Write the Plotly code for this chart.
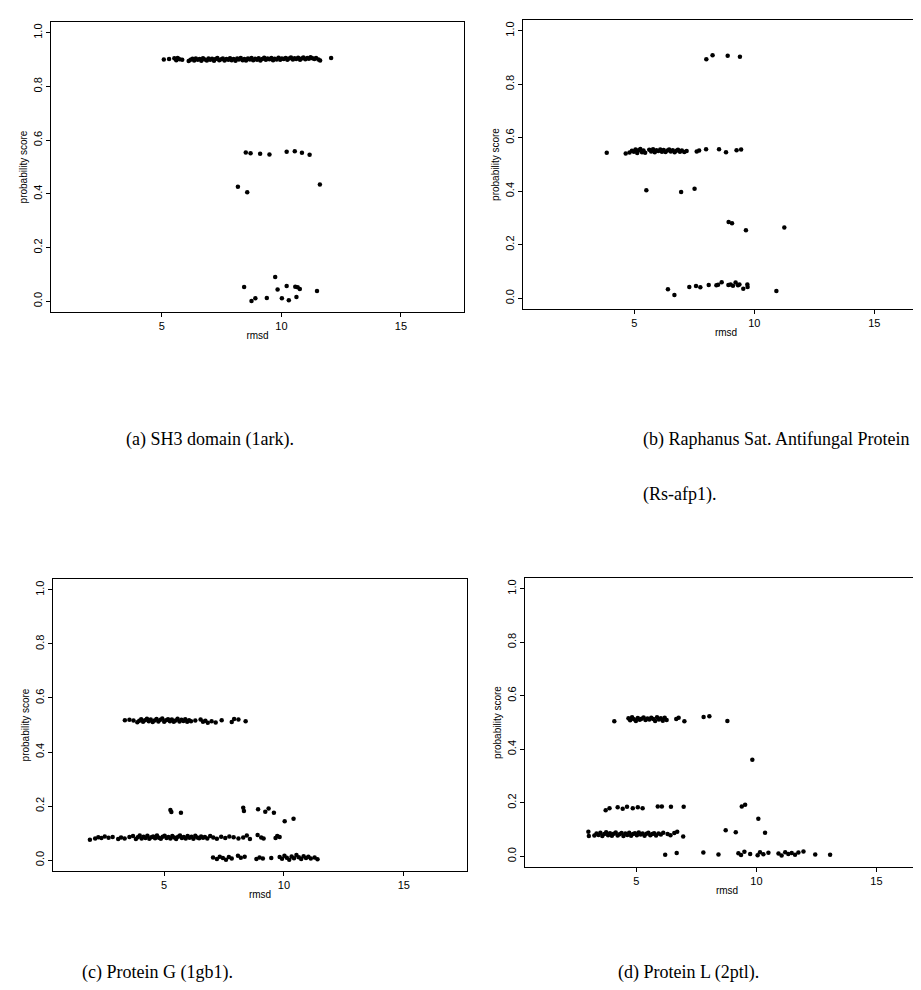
import plotly.graph_objects as go

# ---------------- data ----------------
# Panel (a) SH3 domain (1ark)
A_band_x = [5.08, 5.30, 5.52, 5.60, 5.66, 5.74, 5.85, 6.12, 6.20, 6.28,
            6.35, 6.42, 6.50, 6.58, 6.65, 6.72, 6.80, 6.88, 6.95, 7.02,
            7.10, 7.18, 7.25, 7.32, 7.40, 7.48, 7.55, 7.62, 7.70, 7.78,
            7.85, 7.92, 8.00, 8.08, 8.15, 8.22, 8.30, 8.38, 8.45, 8.52,
            8.60, 8.68, 8.75, 8.82, 8.90, 8.98, 9.05, 9.12, 9.20, 9.28,
            9.35, 9.42, 9.50, 9.58, 9.65, 9.72, 9.80, 9.88, 9.95, 10.02,
            10.10, 10.18, 10.25, 10.32, 10.40, 10.48, 10.55, 10.62, 10.70, 10.78,
            10.85, 10.92, 11.00, 11.08, 11.15, 11.22, 11.30, 11.38, 11.45, 11.55,
            11.62, 12.08]
A_band_y = [0.900, 0.902, 0.905, 0.898, 0.906, 0.901, 0.899, 0.895, 0.899, 0.903,
            0.897, 0.904, 0.899, 0.902, 0.896, 0.905, 0.900, 0.897, 0.904, 0.899,
            0.903, 0.896, 0.902, 0.906, 0.898, 0.901, 0.904, 0.897, 0.902, 0.899,
            0.905, 0.898, 0.902, 0.896, 0.904, 0.900, 0.906, 0.898, 0.902, 0.897,
            0.904, 0.900, 0.906, 0.898, 0.903, 0.899, 0.905, 0.897, 0.902, 0.907,
            0.899, 0.904, 0.901, 0.906, 0.898, 0.903, 0.900, 0.907, 0.899, 0.904,
            0.902, 0.906, 0.899, 0.904, 0.908, 0.900, 0.905, 0.902, 0.907, 0.899,
            0.904, 0.908, 0.901, 0.906, 0.903, 0.909, 0.905, 0.902, 0.906, 0.900,
            0.897, 0.906]
A_mid_x = [8.51, 8.71, 9.11, 9.50, 10.22, 10.56, 10.86, 11.18, 8.18, 8.57, 11.61]
A_mid_y = [0.554, 0.551, 0.549, 0.547, 0.557, 0.559, 0.553, 0.546, 0.426, 0.406, 0.435]
A_low_x = [8.44, 9.74, 9.84, 10.22, 10.58, 10.68, 10.77, 11.49, 8.75, 8.91, 9.39, 10.02, 10.31, 10.63]
A_low_y = [0.053, 0.090, 0.044, 0.057, 0.054, 0.052, 0.046, 0.038, 0.001, 0.011, 0.012, 0.011, 0.004, 0.016]

# Panel (b) Raphanus Sat. Antifungal Protein (Rs-afp1)
B_top_x = [8.00, 8.26, 8.89, 9.40]
B_top_y = [0.893, 0.908, 0.906, 0.903]
B_band_x = [3.85, 4.64, 4.80, 4.90, 4.98, 5.05, 5.12, 5.18, 5.25, 5.32,
            5.38, 5.45, 5.62, 5.70, 5.78, 5.85, 5.92, 6.00, 6.08, 6.15,
            6.22, 6.30, 6.38, 6.45, 6.52, 6.60, 6.68, 6.75, 6.82, 6.90,
            6.98, 7.08, 7.18, 7.60, 7.70, 7.99, 8.53, 8.82, 9.26, 9.45]
B_band_y = [0.544, 0.541, 0.545, 0.551, 0.548, 0.556, 0.543, 0.553, 0.558, 0.546,
            0.552, 0.544, 0.555, 0.549, 0.557, 0.546, 0.553, 0.550, 0.556, 0.548,
            0.554, 0.547, 0.552, 0.556, 0.549, 0.553, 0.546, 0.551, 0.555, 0.548,
            0.552, 0.547, 0.550, 0.549, 0.552, 0.557, 0.557, 0.546, 0.553, 0.556]
B_mid_x = [5.50, 6.95, 7.51, 8.93, 9.07, 9.65, 11.25]
B_mid_y = [0.404, 0.397, 0.409, 0.285, 0.280, 0.254, 0.265]
B_low_x = [6.40, 6.67, 7.29, 7.57, 7.75, 8.10, 8.42, 8.49, 8.64, 8.92,
           9.01, 9.11, 9.22, 9.32, 9.38, 9.54, 9.71, 9.72, 10.92]
B_low_y = [0.034, 0.012, 0.042, 0.046, 0.041, 0.050, 0.049, 0.051, 0.060, 0.050,
           0.052, 0.047, 0.059, 0.049, 0.052, 0.036, 0.052, 0.042, 0.027]

# Panel (c) Protein G (1gb1)
C_top_x = [3.36, 3.55, 3.72, 3.88, 3.96, 4.04, 4.12, 4.20, 4.28, 4.36,
           4.44, 4.52, 4.60, 4.68, 4.76, 4.84, 4.92, 5.00, 5.08, 5.16,
           5.24, 5.32, 5.40, 5.48, 5.56, 5.64, 5.72, 5.80, 5.88, 5.96,
           6.04, 6.12, 6.30, 6.52, 6.62, 6.72, 6.82, 6.98, 7.15, 7.40,
           7.82, 7.92, 8.10, 8.40]
C_top_y = [0.518, 0.519, 0.517, 0.510, 0.516, 0.521, 0.512, 0.518, 0.523, 0.514,
           0.520, 0.511, 0.517, 0.522, 0.513, 0.519, 0.524, 0.512, 0.518, 0.521,
           0.514, 0.520, 0.512, 0.517, 0.523, 0.513, 0.519, 0.515, 0.521, 0.512,
           0.518, 0.514, 0.517, 0.520, 0.512, 0.516, 0.508, 0.514, 0.509, 0.518,
           0.511, 0.522, 0.520, 0.514]
C_mid_x = [5.26, 5.30, 5.70, 8.30, 8.33, 8.92, 9.22, 9.36, 9.58, 10.03, 10.40]
C_mid_y = [0.186, 0.178, 0.175, 0.194, 0.182, 0.188, 0.179, 0.191, 0.175, 0.144, 0.153]
C_band_x = [1.90, 2.12, 2.25, 2.38, 2.52, 2.68, 2.85, 3.08, 3.20, 3.35,
            3.55, 3.70, 3.82, 3.90, 3.98, 4.06, 4.14, 4.22, 4.30, 4.38,
            4.46, 4.54, 4.62, 4.70, 4.78, 4.86, 4.94, 5.02, 5.10, 5.18,
            5.26, 5.34, 5.42, 5.50, 5.58, 5.66, 5.74, 5.82, 5.90, 5.98,
            6.06, 6.14, 6.22, 6.30, 6.38, 6.46, 6.54, 6.62, 6.70, 6.80,
            6.92, 7.05, 7.20, 7.38, 7.55, 7.72, 7.90, 8.10, 8.30, 8.45,
            8.58, 8.90, 9.05, 9.15, 9.65, 9.72, 9.82]
C_band_y = [0.076, 0.080, 0.085, 0.082, 0.088, 0.083, 0.086, 0.078, 0.084, 0.080,
            0.086, 0.089, 0.078, 0.085, 0.091, 0.080, 0.087, 0.082, 0.090, 0.079,
            0.085, 0.088, 0.081, 0.091, 0.083, 0.079, 0.087, 0.090, 0.082, 0.086,
            0.080, 0.089, 0.084, 0.078, 0.087, 0.091, 0.082, 0.086, 0.080, 0.089,
            0.083, 0.087, 0.079, 0.090, 0.084, 0.081, 0.088, 0.083, 0.086, 0.080,
            0.089, 0.084, 0.079, 0.087, 0.082, 0.088, 0.085, 0.080, 0.084, 0.091,
            0.078, 0.093, 0.084, 0.080, 0.082, 0.089, 0.086]
C_low_x = [7.04, 7.20, 7.32, 7.45, 7.58, 7.70, 7.82, 8.08, 8.20, 8.36,
           8.85, 8.98, 9.12, 9.47, 9.82, 9.92, 10.02, 10.12, 10.22, 10.32,
           10.42, 10.52, 10.62, 10.72, 10.82, 10.92, 11.02, 11.12, 11.28, 11.40]
C_low_y = [0.010, 0.004, 0.013, 0.008, 0.002, 0.012, 0.006, 0.016, 0.009, 0.013,
           0.004, 0.010, 0.006, 0.008, 0.012, 0.005, 0.016, 0.009, 0.002, 0.014,
           0.007, 0.019, 0.011, 0.004, 0.015, 0.008, 0.013, 0.006, 0.010, 0.003]

# Panel (d) Protein L (2ptl)
D_top_x = [4.08, 4.67, 4.74, 4.82, 4.90, 4.98, 5.06, 5.14, 5.22, 5.30,
           5.38, 5.46, 5.54, 5.62, 5.70, 5.78, 5.86, 5.94, 6.02, 6.10,
           6.18, 6.26, 6.66, 6.76, 7.00, 7.80, 8.04, 8.79]
D_top_y = [0.505, 0.516, 0.508, 0.520, 0.512, 0.506, 0.517, 0.510, 0.514, 0.519,
           0.509, 0.515, 0.511, 0.518, 0.513, 0.506, 0.520, 0.511, 0.516, 0.507,
           0.518, 0.509, 0.513, 0.518, 0.505, 0.521, 0.523, 0.506]
D_mid_x = [9.83, 3.72, 3.88, 4.22, 4.43, 4.61, 4.85, 5.06, 5.26, 5.89, 6.06, 6.44, 6.97, 9.39, 9.53, 10.08]
D_mid_y = [0.361, 0.172, 0.180, 0.183, 0.178, 0.185, 0.180, 0.183, 0.180, 0.186, 0.186, 0.185, 0.185, 0.186, 0.193, 0.140]
D_band_x = [3.00, 3.02, 3.25, 3.34, 3.42, 3.50, 3.58, 3.66, 3.74, 3.82,
            3.90, 3.98, 4.06, 4.14, 4.22, 4.30, 4.38, 4.46, 4.54, 4.62,
            4.70, 4.78, 4.86, 4.94, 5.02, 5.10, 5.18, 5.26, 5.34, 5.42,
            5.50, 5.58, 5.66, 5.74, 5.82, 5.92, 6.02, 6.12, 6.30, 6.42,
            6.58, 6.70, 6.95, 8.72, 9.14, 10.36]
D_band_y = [0.092, 0.076, 0.078, 0.085, 0.080, 0.088, 0.076, 0.083, 0.090, 0.079,
            0.086, 0.077, 0.084, 0.089, 0.078, 0.082, 0.087, 0.076, 0.085, 0.080,
            0.088, 0.077, 0.083, 0.086, 0.079, 0.089, 0.081, 0.085, 0.077, 0.084,
            0.088, 0.079, 0.083, 0.086, 0.078, 0.085, 0.081, 0.088, 0.083, 0.079,
            0.087, 0.092, 0.074, 0.097, 0.090, 0.088]
D_low_x = [6.20, 6.68, 7.79, 8.42, 9.25, 9.36, 9.50, 9.74, 10.05, 10.15,
           10.29, 10.50, 10.92, 11.05, 11.20, 11.33, 11.47, 11.61, 11.75, 11.96,
           12.45, 13.07]
D_low_y = [0.006, 0.012, 0.014, 0.007, 0.011, 0.005, 0.017, 0.009, 0.004, 0.015,
           0.008, 0.013, 0.010, 0.003, 0.015, 0.009, 0.012, 0.006, 0.014, 0.018,
           0.007, 0.006]

X_TICKS = [5, 10, 15]
Y_TICKS = [0.0, 0.2, 0.4, 0.6, 0.8, 1.0]
Y_TICKTEXT = ["0.0", "0.2", "0.4", "0.6", "0.8", "1.0"]
X_LABEL = "rmsd"
Y_LABEL = "probability score"
CAPTIONS = ["(a) SH3 domain (1ark).",
            "(b) Raphanus Sat. Antifungal Protein",
            "(Rs-afp1).",
            "(c) Protein G (1gb1).",
            "(d) Protein L (2ptl)."]

# ---------------- figure ----------------
W, H = 921, 990
fig = go.Figure()

panels = [
    ("x", "y", [(A_band_x, A_band_y), (A_mid_x, A_mid_y), (A_low_x, A_low_y)]),
    ("x2", "y2", [(B_top_x, B_top_y), (B_band_x, B_band_y), (B_mid_x, B_mid_y), (B_low_x, B_low_y)]),
    ("x3", "y3", [(C_top_x, C_top_y), (C_mid_x, C_mid_y), (C_band_x, C_band_y), (C_low_x, C_low_y)]),
    ("x4", "y4", [(D_top_x, D_top_y), (D_mid_x, D_mid_y), (D_band_x, D_band_y), (D_low_x, D_low_y)]),
]
for xa, ya, groups in panels:
    for gx, gy in groups:
        fig.add_trace(go.Scatter(x=gx, y=gy, mode="markers", xaxis=xa, yaxis=ya,
                                 marker=dict(color="black", size=4.5, line=dict(width=0)),
                                 showlegend=False, hoverinfo="skip"))

def px_x(p):
    return p / W

def px_y(p):
    return 1 - p / H

tick_font = dict(family="Liberation Sans, Arial, sans-serif", size=11, color="black")
title_font = dict(family="Liberation Sans, Arial, sans-serif", size=10, color="black")

# (left px, right px, top px, bottom px, x range, mirror right side)
geo = [
    (43, 456, 14, 304, [0.36, 17.64], True),
    (515, 921, 12, 301, [0.36, 17.28], False),
    (45, 459, 571, 863, [0.36, 17.64], True),
    (517, 921, 570, 859, [0.36, 17.19], False),
]
for i, (l, r, t, b, xr, mir) in enumerate(geo):
    sfx = "" if i == 0 else str(i + 1)
    fig.layout["xaxis" + sfx] = dict(
        domain=[px_x(l), px_x(r)], range=xr, anchor="y" + sfx,
        tickvals=X_TICKS, ticks="outside", ticklen=4, tickwidth=1, tickcolor="black",
        showline=True, linecolor="black", linewidth=1, mirror=True,
        showgrid=False, zeroline=False, tickfont=tick_font,
        title=dict(text=X_LABEL, font=title_font, standoff=0))
    fig.layout["yaxis" + sfx] = dict(
        domain=[px_y(b), px_y(t)], range=[-0.04, 1.04], anchor="x" + sfx,
        tickvals=Y_TICKS, ticktext=Y_TICKTEXT, tickangle=-90,
        ticks="outside", ticklen=4, tickwidth=1, tickcolor="black",
        showline=True, linecolor="black", linewidth=1, mirror=mir,
        showgrid=False, zeroline=False, tickfont=tick_font,
        title=dict(text=Y_LABEL, font=title_font, standoff=2))

cap_font = dict(family="Liberation Serif, Times New Roman, serif", size=18, color="black")
cap_pos = [(116, 431, "left"), (633, 431, "left"), (633, 487, "left"), (72, 964, "left"), (608, 964, "left")]
for txt, (cx, cy, anc) in zip(CAPTIONS, cap_pos):
    fig.add_annotation(text=txt, xref="paper", yref="paper", x=px_x(cx), y=px_y(cy),
                       xanchor=anc, yanchor="middle", showarrow=False, font=cap_font)

fig.update_layout(width=W, height=H, margin=dict(l=0, r=0, t=0, b=0),
                  paper_bgcolor="white", plot_bgcolor="white")

fig.write_html("out.html")
